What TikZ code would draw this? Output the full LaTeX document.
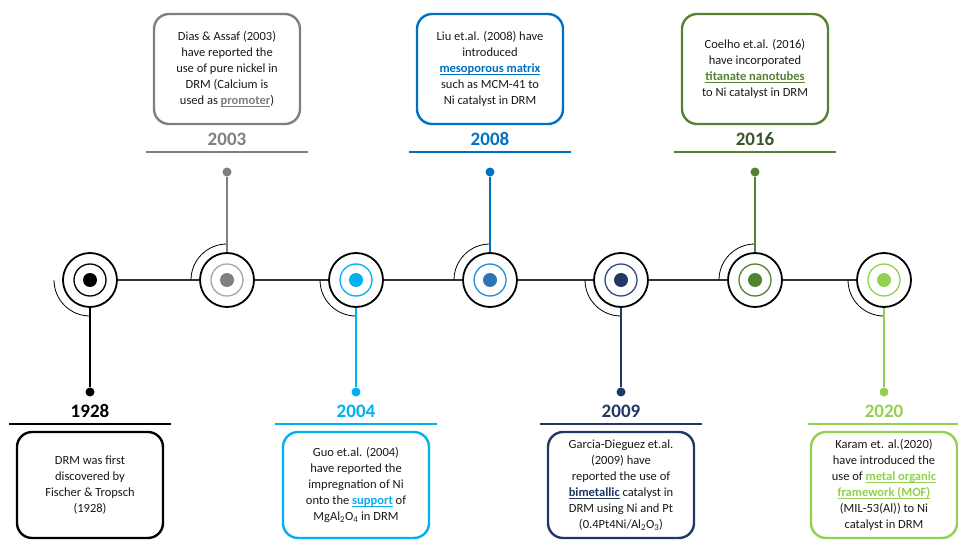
\documentclass[tikz,border=0pt]{standalone}
\usepackage{fontspec}
\setmainfont{Carlito}

% bold, underlined key word in the colour of its event
\newcommand\hlword[2]{{\color{#1}\bfseries\setbox0\hbox{#2}\rlap{\rule[-2.2pt]{\wd0}{0.9pt}}\box0}}

\begin{document}
\begin{tikzpicture}[
    x=1pt, y=-1pt,
    hub/.style={
        circle, draw=black, line width=1.8pt, fill=white, minimum size=54pt, inner sep=0pt
    },
    ring/.style={circle, draw=#1, line width=1.3pt, minimum size=32pt, inner sep=0pt},
    core/.style={circle, fill=#1, minimum size=14pt, inner sep=0pt},
    tipdot/.style={circle, fill=#1, minimum size=9pt, inner sep=0pt},
    stem/.style={draw=#1, line width=1.6pt},
    quarter/.style={draw=black, line width=0.8pt},
    spine/.style={draw=black!80, line width=1.2pt},
    event/.style={
        draw=#1, line width=2.4pt, rounded corners=15pt, fill=white,
        minimum width=146pt, minimum height=110pt,
        align=center, font=\fontsize{12.5}{16}\selectfont, text=black!90
    },
    year/.style={font=\fontsize{19}{22}\selectfont\bfseries, text=#1},
    rule/.style={draw=#1, line width=2pt}
]

% ============================
% COLOR DEFINITIONS
% ============================
\definecolor{colGray}{HTML}{7F7F7F}     % 2003
\definecolor{colGrayRing}{HTML}{A6A6A6}
\definecolor{colCyan}{HTML}{00B0F0}     % 2004
\definecolor{colBlue}{HTML}{0070C0}     % 2008
\definecolor{colBlueRing}{HTML}{1E8FD5}
\definecolor{colBlueDot}{HTML}{2E75B6}
\definecolor{colNavy}{HTML}{203864}     % 2009
\definecolor{colNavyRing}{HTML}{2F4A7D}
\definecolor{colGreen}{HTML}{548235}    % 2016
\definecolor{colGreenDark}{HTML}{385723}
\definecolor{colLime}{HTML}{92D050}     % 2020

\useasboundingbox (0,0) rectangle (958,540);

% ============================
% TIMELINE MARKERS (y=280)
% ============================
\node[hub] (c1928) at (90,280) {};
\node[ring=black] (r1928) at (90,280) {};
\node[core=black] (k1928) at (90,280) {};

\node[hub] (c2003) at (227,280) {};
\node[ring=colGrayRing] (r2003) at (227,280) {};
\node[core=colGray] (k2003) at (227,280) {};

\node[hub] (c2004) at (356,280) {};
\node[ring=colCyan] (r2004) at (356,280) {};
\node[core=colCyan] (k2004) at (356,280) {};

\node[hub] (c2008) at (490,280) {};
\node[ring=colBlueRing] (r2008) at (490,280) {};
\node[core=colBlueDot] (k2008) at (490,280) {};

\node[hub] (c2009) at (621,280) {};
\node[ring=colNavyRing] (r2009) at (621,280) {};
\node[core=colNavy] (k2009) at (621,280) {};

\node[hub] (c2016) at (755,280) {};
\node[ring=colGreen] (r2016) at (755,280) {};
\node[core=colGreen] (k2016) at (755,280) {};

\node[hub] (c2020) at (884,280) {};
\node[ring=colLime] (r2020) at (884,280) {};
\node[core=colLime] (k2020) at (884,280) {};

% --- spine ---
\draw[spine] (c1928) -- (c2003) -- (c2004) -- (c2008) -- (c2009) -- (c2016) -- (c2020);

% --- quarter arcs (r=36): lower-left below, upper-left above ---
\draw[quarter] (54,280) .. controls (54,299.9) and (70.1,316) .. (90,316);
\draw[quarter] (227,244) .. controls (207.1,244) and (191,260.1) .. (191,280);
\draw[quarter] (320,280) .. controls (320,299.9) and (336.1,316) .. (356,316);
\draw[quarter] (490,244) .. controls (470.1,244) and (454,260.1) .. (454,280);
\draw[quarter] (585,280) .. controls (585,299.9) and (601.1,316) .. (621,316);
\draw[quarter] (755,244) .. controls (735.1,244) and (719,260.1) .. (719,280);
\draw[quarter] (848,280) .. controls (848,299.9) and (864.1,316) .. (884,316);

% ============================
% TOP EVENTS: 2003, 2008, 2016
% ============================

% --- 2003 ---
\node[tipdot=colGray] (d2003) at (227,172) {};
\draw[stem=colGray] (d2003) -- (c2003);
\node[year=colGray] (y2003) at (227,139) {2003};
\draw[rule=colGray] (146,152) -- (308,152);
\node[event=colGray] (b2003) at (227,69)
    {Dias \& Assaf (2003)\\have reported the\\use of pure nickel in\\DRM (Calcium is\\used as \hlword{colGray}{promoter})};

% --- 2008 ---
\node[tipdot=colBlue] (d2008) at (490,172) {};
\draw[stem=colBlue] (d2008) -- (c2008);
\node[year=colBlue] (y2008) at (490,139) {2008};
\draw[rule=colBlue] (409,152) -- (571,152);
\node[event=colBlue] (b2008) at (490,69)
    {Liu et.al. (2008) have\\introduced\\\hlword{colBlue}{mesoporous matrix}\\such as MCM-41 to\\Ni catalyst in DRM};

% --- 2016 ---
\node[tipdot=colGreen] (d2016) at (755,172) {};
\draw[stem=colGreen] (d2016) -- (c2016);
\node[year=colGreenDark] (y2016) at (755,139) {2016};
\draw[rule=colGreen] (674,152) -- (836,152);
\node[event=colGreen] (b2016) at (755,69)
    {Coelho et.al. (2016)\\have incorporated\\\hlword{colGreen}{titanate nanotubes}\\to Ni catalyst in DRM};

% ============================
% BOTTOM EVENTS: 1928, 2004, 2009, 2020
% ============================

% --- 1928 ---
\node[tipdot=black] (d1928) at (90,392) {};
\draw[stem=black] (c1928) -- (d1928);
\node[year=black] (y1928) at (90,411) {1928};
\draw[rule=black] (9,424) -- (171,424);
\node[event=black, minimum height=106pt] (b1928) at (90,485)
    {DRM was first\\discovered by\\Fischer \& Tropsch\\(1928)};

% --- 2004 ---
\node[tipdot=colCyan] (d2004) at (356,392) {};
\draw[stem=colCyan] (c2004) -- (d2004);
\node[year=colCyan] (y2004) at (356,411) {2004};
\draw[rule=colCyan] (275,424) -- (437,424);
\node[event=colCyan, minimum height=106pt] (b2004) at (356,485)
    {Guo et.al. (2004)\\have reported the\\impregnation of Ni\\onto the \hlword{colCyan}{support} of\\MgAl\textsubscript{2}O\textsubscript{4} in DRM};

% --- 2009 ---
\node[tipdot=colNavy] (d2009) at (621,392) {};
\draw[stem=colNavy] (c2009) -- (d2009);
\node[year=colNavy] (y2009) at (621,411) {2009};
\draw[rule=colNavy] (540,424) -- (702,424);
\node[event=colNavy, minimum height=106pt] (b2009) at (621,485)
    {Garcia-Dieguez et.al.\\(2009) have\\reported the use of\\\hlword{colNavy}{bimetallic} catalyst in\\DRM using Ni and Pt\\(0.4Pt4Ni/Al\textsubscript{2}O\textsubscript{3})};

% --- 2020 ---
\node[tipdot=colLime] (d2020) at (884,392) {};
\draw[stem=colLime] (c2020) -- (d2020);
\node[year=colLime] (y2020) at (884,411) {2020};
\draw[rule=colLime] (808,424) -- (958,424);
\node[event=colLime, minimum height=106pt] (b2020) at (884,485)
    {Karam et. al.(2020)\\have introduced the\\use of \hlword{colLime}{metal organic}\\\hlword{colLime}{framework (MOF)}\\(MIL-53(Al)) to Ni\\catalyst in DRM};

\end{tikzpicture}
\end{document}
